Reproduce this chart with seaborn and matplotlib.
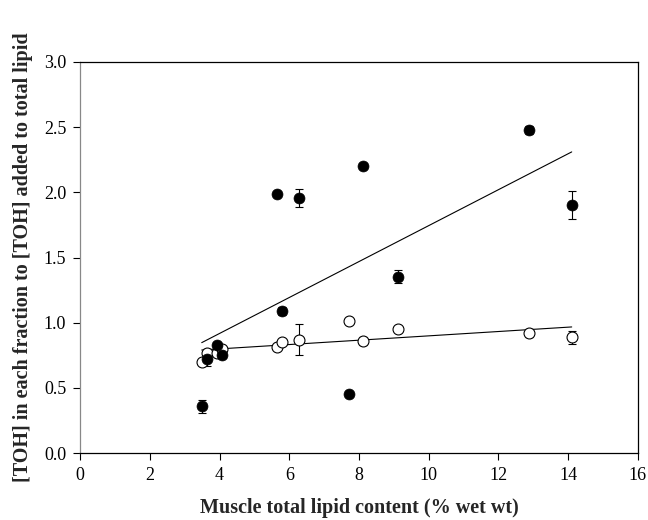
import numpy as np
import pandas as pd
import seaborn as sns
import matplotlib.pyplot as plt

# Muscle total lipid content (% wet wt)
lipid = [3.49, 3.65, 3.92, 4.06, 5.64, 5.80, 6.29, 7.72, 8.11, 9.13, 12.88, 14.10]

# filled circles
filled_y = [0.36, 0.72, 0.83, 0.75, 1.985, 1.09, 1.955, 0.45, 2.205, 1.353, 2.479, 1.903]
filled_err = [0.05, 0.05, 0.02, 0.02, 0.01, 0.03, 0.07, 0.01, 0.02, 0.05, 0.03, 0.105]

# open circles
open_y = [0.70, 0.765, 0.77, 0.80, 0.81, 0.854, 0.87, 1.01, 0.86, 0.95, 0.923, 0.888]
open_err = [0.02, 0.03, 0.02, 0.02, 0.01, 0.01, 0.117, 0.01, 0.03, 0.01, 0.03, 0.05]

df = pd.DataFrame({'lipid': lipid, 'filled': filled_y, 'open': open_y})

sns.set_style('ticks')
plt.rcParams['font.family'] = ['Liberation Serif', 'DejaVu Serif']

fig = plt.figure(figsize=(6.48, 5.2), dpi=100)
ax = fig.add_axes([0.1235, 0.1288, 0.861, 0.752])

# regression lines
sns.regplot(x='lipid', y='filled', data=df, scatter=False, ci=None, truncate=True,
            color='black', line_kws={'lw': 0.8}, ax=ax)
sns.regplot(x='lipid', y='open', data=df, scatter=False, ci=None, truncate=True,
            color='black', line_kws={'lw': 0.8}, ax=ax)

# error bars
ax.errorbar(lipid, open_y, yerr=open_err, fmt='none', ecolor='black',
            elinewidth=0.8, capsize=3.2, capthick=0.8, zorder=3)
ax.errorbar(lipid, filled_y, yerr=filled_err, fmt='none', ecolor='black',
            elinewidth=0.8, capsize=3.2, capthick=0.8, zorder=3)

# points
sns.scatterplot(x='lipid', y='open', data=df, marker='o', s=62, color='white',
                edgecolor='black', linewidth=0.8, zorder=4, ax=ax)
sns.scatterplot(x='lipid', y='filled', data=df, marker='o', s=62, color='black',
                edgecolor='black', linewidth=0.5, zorder=5, ax=ax)

ax.set_xlim(0, 16)
ax.set_ylim(0, 3.0)
ax.set_xticks(range(0, 17, 2))
ax.set_yticks(np.arange(0, 3.01, 0.5))
ax.set_yticklabels([f'{v:.1f}' for v in np.arange(0, 3.01, 0.5)])
ax.tick_params(direction='out', length=5, width=0.8, labelsize=13, pad=5,
               colors='black')

for s in ax.spines.values():
    s.set_visible(True)
    s.set_linewidth(0.9)
    s.set_color('black')
ax.spines['left'].set_color('#888888')

ax.set_xlabel('Muscle total lipid content (% wet wt)', fontsize=14.5,
              fontweight='bold', labelpad=10)
ax.set_ylabel('[TOH] in each fraction to [TOH] added to total lipid',
              fontsize=14.5, fontweight='bold', labelpad=8)

plt.savefig('out.png', dpi=100, facecolor='white')
